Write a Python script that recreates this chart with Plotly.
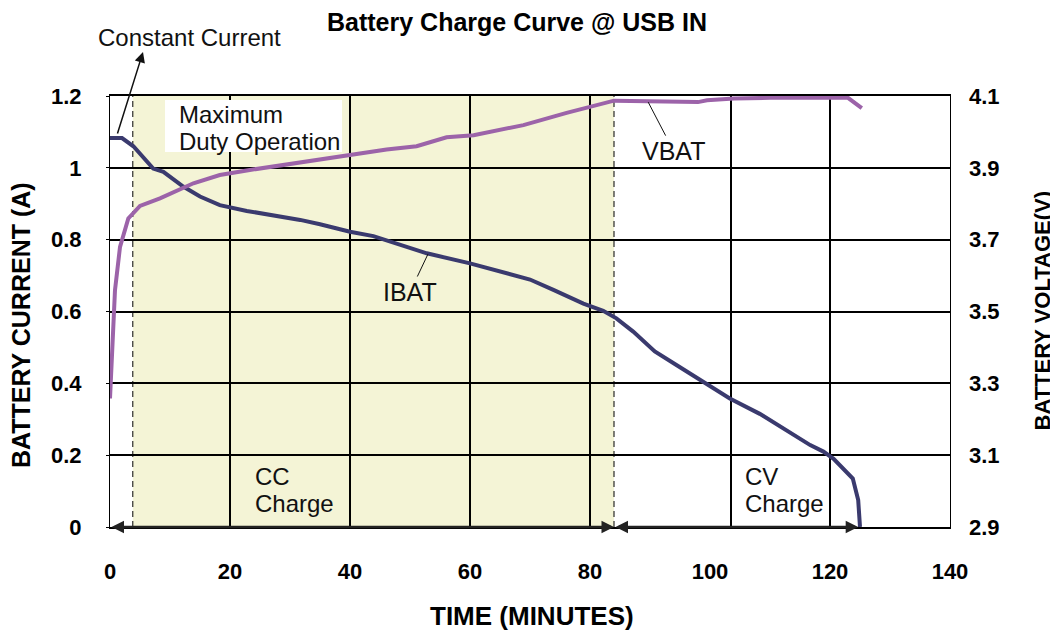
import plotly.graph_objects as go

# ---------------- data ----------------
TIME_I = [0, 2, 3.9, 7.2, 8.9, 12.2, 15, 18.3, 22.8, 26.1, 31.7, 35, 40, 43.9, 48.3,
          52.8, 60, 65, 70, 73.9, 78.9, 82.2, 84.4, 87.2, 90.8, 94.4, 98.9, 103.3,
          108.3, 112.8, 116.7, 118.9, 120.6, 123.8, 124.7, 125]
IBAT = [1.083, 1.083, 1.06, 0.998, 0.989, 0.948, 0.92, 0.896, 0.88, 0.871, 0.855,
        0.843, 0.822, 0.81, 0.785, 0.762, 0.734, 0.711, 0.689, 0.66, 0.622, 0.602,
        0.581, 0.544, 0.489, 0.451, 0.405, 0.358, 0.315, 0.27, 0.228, 0.21, 0.19,
        0.135, 0.075, 0.0]

TIME_V = [0, 0.83, 1.67, 3.05, 5, 8.33, 13.9, 18.3, 23.3, 28.9, 34.4, 40, 46.1, 51.1,
          56.1, 60.6, 68.9, 76.1, 80, 84, 98, 99.5, 104, 110, 123, 125.3]
VBAT = [3.258, 3.559, 3.68, 3.759, 3.794, 3.815, 3.857, 3.88, 3.894, 3.908, 3.922,
        3.934, 3.951, 3.96, 3.985, 3.991, 4.019, 4.053, 4.069, 4.087, 4.083, 4.088,
        4.093, 4.095, 4.095, 4.066]

X_TICKS = [0, 20, 40, 60, 80, 100, 120, 140]
I_TICKS = [0, 0.2, 0.4, 0.6, 0.8, 1.0, 1.2]
V_TICKS = [2.9, 3.1, 3.3, 3.5, 3.7, 3.9, 4.1]
GRID_X = [20, 40, 60, 80, 103.5, 120]

CC_START, CC_END, CV_END = 3.8, 84, 124.7          # phase boundaries (minutes)

# ---------------- styling ----------------
FONT = "Arial, Liberation Sans, sans-serif"
NAVY = "#3a3a6e"
PURPLE = "#9c63a9"
SHADE = "#f4f4d6"

W, H = 1058, 635
OFF = 8                       # page body margin in the browser
PL, PR, PT, PB = 110, 950, 96, 527   # plot area in page pixels
PW, PH = PR - PL, PB - PT
L, T = PL - OFF, PT - OFF
R, B = W - L - PW, H - T - PH


def px(xp):
    return (xp - PL) / PW


def py(yp):
    return (PB - yp) / PH


fig = go.Figure()
fig.add_trace(go.Scatter(x=TIME_V, y=VBAT, mode="lines", yaxis="y2", name="VBAT",
                         line=dict(color=PURPLE, width=4), showlegend=False))
fig.add_trace(go.Scatter(x=TIME_I, y=IBAT, mode="lines", name="IBAT",
                         line=dict(color=NAVY, width=4), showlegend=False))

shapes = [dict(type="rect", xref="x", yref="paper", x0=CC_START, x1=CC_END, y0=0, y1=1,
               fillcolor=SHADE, line=dict(width=0), layer="below")]
for gx in GRID_X:
    shapes.append(dict(type="line", xref="x", yref="paper", x0=gx, x1=gx, y0=0, y1=1,
                       line=dict(color="black", width=2), layer="between"))
for dx in (CC_START, CC_END):
    shapes.append(dict(type="line", xref="x", yref="paper", x0=dx, x1=dx, y0=0, y1=1,
                       line=dict(color="black", width=1, dash="6px,4px"), layer="between"))
# white box behind "Maximum Duty Operation"
shapes.append(dict(type="rect", xref="paper", yref="paper", x0=px(165), x1=px(342),
                   y0=py(152), y1=py(100), fillcolor="white", line=dict(width=0),
                   layer="between"))

bold = lambda s: dict(family=FONT, size=s, color="black", weight="bold")

ann = []


def label(text, xp, yp, size=24, anchor="left"):
    ann.append(dict(text=text, xref="paper", yref="paper", x=px(xp), y=py(yp),
                    xanchor=anchor, yanchor="middle", showarrow=False,
                    font=dict(family=FONT, size=size, color="#111111")))


label("Constant Current", 96, 37.5)
label("Maximum", 177, 114.7)
label("Duty Operation", 177, 141.7)
label("CC", 252.5, 476)
label("Charge", 252.5, 503)
label("CV", 743, 476)
label("Charge", 743, 503)

# arrow for "Constant Current"
ann.append(dict(text="", xref="paper", yref="paper", x=px(143), y=py(52),
                ax=-26, ay=83, axref="pixel", ayref="pixel", showarrow=True,
                arrowhead=2, arrowwidth=1.5, arrowsize=1.4, arrowcolor="#111111"))

# series labels with leader lines
ann.append(dict(text="VBAT", xref="x", yref="y2", x=89.7, y=4.083, ax=25.5, ay=49,
                showarrow=True, arrowhead=0, arrowwidth=1, arrowcolor="#111111",
                font=dict(family=FONT, size=25, color="#111111")))
ann.append(dict(text="IBAT", xref="x", yref="y", x=53, y=0.760, ax=-18, ay=38,
                showarrow=True, arrowhead=0, arrowwidth=1, arrowcolor="#111111",
                font=dict(family=FONT, size=25, color="#111111")))

# double-headed phase arrows along the bottom
for a0, a1 in ((0, CC_END), (CC_END, CV_END)):
    ann.append(dict(text="", xref="x", yref="y", axref="x", ayref="y",
                    x=a1, y=0, ax=a0, ay=0, showarrow=True, arrowside="end+start",
                    arrowhead=2, startarrowhead=2, arrowwidth=2.5, arrowsize=1.0,
                    startarrowsize=1.0, arrowcolor="#222222", standoff=0, startstandoff=0))

# axis titles
ann.append(dict(text="TIME (MINUTES)", xref="paper", yref="paper", x=px(531.5), y=py(616),
                xanchor="center", yanchor="middle", showarrow=False, font=bold(26)))
ann.append(dict(text="BATTERY CURRENT (A)", xref="paper", yref="paper", x=px(21), y=py(325),
                xanchor="center", yanchor="middle", textangle=-90, showarrow=False,
                font=bold(25)))
ann.append(dict(text="BATTERY VOLTAGE(V)", xref="paper", yref="paper", x=px(1041.5), y=py(311),
                xanchor="center", yanchor="middle", textangle=-90, showarrow=False,
                font=bold(22)))

fig.update_layout(
    width=W, height=H,
    margin=dict(l=L, r=R, t=T, b=B, pad=0),
    paper_bgcolor="white", plot_bgcolor="white",
    title=dict(text="Battery Charge Curve @ USB IN", x=(517 - OFF) / W, xref="container",
               xanchor="center", y=1 - (22 - OFF) / H, yref="container", yanchor="middle",
               font=bold(25)),
    shapes=shapes, annotations=ann, showlegend=False,
    xaxis=dict(range=[0, 140], tickvals=X_TICKS, showgrid=False, zeroline=False,
               showline=True, mirror=True, linecolor="black", linewidth=1.5,
               ticks="", ticklabelstandoff=24, tickfont=bold(22)),
    yaxis=dict(range=[0, 1.2], tickvals=I_TICKS, ticktext=["0", "0.2", "0.4", "0.6", "0.8", "1", "1.2"],
               showgrid=True, gridcolor="black", gridwidth=2, zeroline=False,
               showline=True, mirror=True, linecolor="black", linewidth=1,
               ticks="outside", ticklen=3, tickcolor="black", ticklabelstandoff=20,
               tickfont=bold(22)),
    yaxis2=dict(range=[2.9, 4.1], tickvals=V_TICKS, ticktext=[f"{v:.1f}" for v in V_TICKS],
                overlaying="y", side="right", showgrid=False, zeroline=False,
                showline=False, ticks="", ticklabelstandoff=18, tickfont=bold(22)),
)

fig.write_html("out.html")
